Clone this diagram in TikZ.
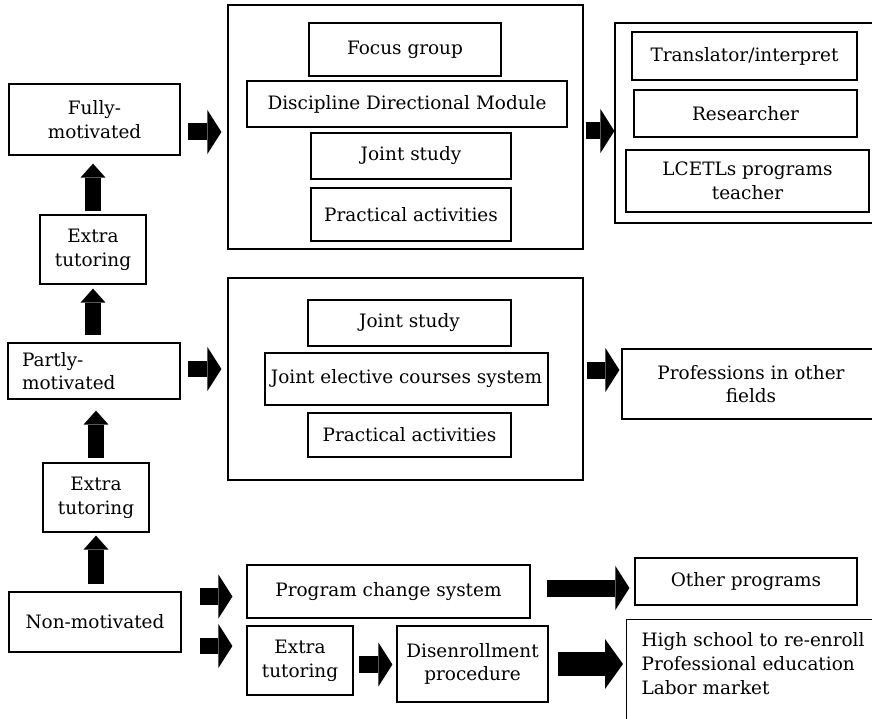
\documentclass[tikz,border=0pt]{standalone}
\usepackage{fontspec}
\setmainfont{DejaVu Serif}
\usetikzlibrary{arrows.meta}

\begin{document}
\begin{tikzpicture}[x=0.02cm, y=-0.02cm, font=\fontsize{10.5}{13.5}\selectfont,
  b/.style={draw, line width=0.7pt, align=center, inner sep=0pt},
  hblk/.style={line width=0.34cm, -{Triangle[length=0.28cm, width=0.88cm, line width=0pt]}},
  vblk/.style={line width=0.34cm, -{Triangle[length=0.28cm, width=0.5cm, line width=0pt]}}]
\useasboundingbox (0,0) rectangle (872,719);
\clip (0,0) rectangle (872,719);
% left column
\node[b, minimum width=3.42cm, minimum height=1.42cm] (fully) at (94.5,119.5) {Fully-\\motivated};
\node[b, minimum width=2.12cm, minimum height=1.38cm] (et1) at (93,249.5) {Extra\\tutoring};
\node[b, minimum height=1.12cm, text width=2.88cm, inner xsep=0.28cm, align=left] (partly) at (94,371) {Partly-\\motivated};
\node[b, minimum width=2.12cm, minimum height=1.38cm] (et2) at (96,497.5) {Extra\\tutoring};
\node[b, minimum width=3.44cm, minimum height=1.2cm] (non) at (95,622) {Non-motivated};
% fully-motivated track
\node[b, minimum width=7.1cm, minimum height=4.88cm] (grp1) at (405.5,127) {};
\node[b, minimum width=3.84cm, minimum height=1.06cm] (focus) at (405,49.5) {Focus group};
\node[b, minimum width=6.4cm, minimum height=0.92cm] (ddm) at (407,104) {Discipline Directional Module};
\node[b, minimum width=4cm, minimum height=0.92cm] (js1) at (411,156) {Joint study};
\node[b, minimum width=4cm, minimum height=1.06cm] (pa1) at (411,214.5) {Practical activities};
\node[b, minimum width=5.26cm, minimum height=4cm] (out1) at (746.5,123) {};
\node[b, minimum width=4.5cm, minimum height=0.96cm] (trans) at (744.5,56) {Translator/interpret};
\node[b, minimum width=4.46cm, minimum height=0.94cm] (res) at (745.5,113.5) {Researcher};
\node[b, minimum width=4.86cm, minimum height=1.24cm] (lcetl) at (747.5,181) {LCETLs programs\\teacher};
% partly-motivated track
\node[b, minimum width=7.1cm, minimum height=4.04cm] (grp2) at (405.5,379) {};
\node[b, minimum width=4.06cm, minimum height=0.92cm] (js2) at (409.5,323) {Joint study};
\node[b, minimum width=5.66cm, minimum height=1.04cm] (jecs) at (406.5,379) {Joint elective courses system};
\node[b, minimum width=4.06cm, minimum height=0.88cm] (pa2) at (409.5,435) {Practical activities};
\node[b, minimum width=5.16cm, minimum height=1.4cm] (prof) at (751,384) {Professions in other\\fields};
% non-motivated track
\node[b, minimum width=5.66cm, minimum height=1.06cm] (pcs) at (388.5,591.5) {Program change system};
\node[b, minimum width=4.44cm, minimum height=0.94cm] (other) at (746,581.5) {Other programs};
\node[b, minimum width=2.12cm, minimum height=1.38cm] (et3) at (300,660.5) {Extra\\tutoring};
\node[b, minimum width=3.02cm, minimum height=1.52cm] (dis) at (472.5,664) {Disenrollment\\procedure};
\node[b, anchor=north west, text width=4.7cm, inner xsep=0.3cm, inner ysep=0.26cm, align=left] (hs) at (626,619) {High school to re-enroll\\Professional education\\Labor market\\ \mbox{}};
% arrows
\draw[vblk, shorten <=0.06cm, shorten >=0.16cm] (et1.north) -- (et1.north |- fully.south);
\draw[vblk, shorten <=0.14cm, shorten >=0.08cm] (et1.south |- partly.north) -- (et1.south);
\draw[vblk, shorten <=0.08cm, shorten >=0.22cm] (et2.north) -- (et2.north |- partly.south);
\draw[vblk, shorten <=0.14cm, shorten >=0.06cm] (et2.south |- non.north) -- (et2.south);
\draw[hblk, shorten <=0.14cm, shorten >=0.12cm] ([yshift=-0.25cm]fully.east) -- ([yshift=-0.25cm]fully.east -| grp1.west);
\draw[hblk, shorten <=0.04cm] ([yshift=-0.08cm]grp1.east) -- ([yshift=-0.08cm]grp1.east -| out1.west);
\draw[hblk, shorten <=0.14cm, shorten >=0.12cm] ([yshift=0.04cm]partly.east) -- ([yshift=0.04cm]partly.east -| grp2.west);
\draw[hblk, shorten <=0.06cm, shorten >=0.04cm] ([yshift=0.18cm]grp2.east) -- ([yshift=0.18cm]grp2.east -| prof.west);
\draw[hblk, shorten <=0.36cm, shorten >=0.28cm] ([yshift=0.51cm]non.east) -- ([yshift=0.51cm]non.east -| pcs.west);
\draw[hblk, shorten <=0.36cm, shorten >=0.28cm] ([yshift=-0.48cm]non.east) -- ([yshift=-0.48cm]non.east -| et3.west);
\draw[hblk, shorten <=0.32cm, shorten >=0.1cm] ([yshift=0.07cm]pcs.east) -- ([yshift=0.07cm]pcs.east -| other.west);
\draw[hblk, shorten <=0.1cm, shorten >=0.08cm] ([yshift=-0.08cm]et3.east) -- ([yshift=-0.08cm]et3.east -| dis.west);
\draw[line width=0.48cm, -{Triangle[length=0.36cm, width=1cm, line width=0pt]}, shorten <=0.18cm, shorten >=0.06cm] (dis.east) -- (dis.east -| hs.west);
\end{tikzpicture}
\end{document}
